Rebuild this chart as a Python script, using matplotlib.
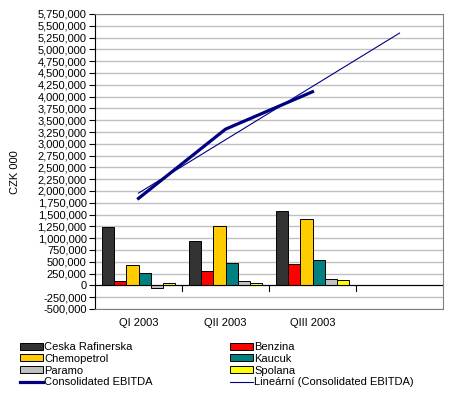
import numpy as np
import matplotlib
matplotlib.use("Agg")
import matplotlib.pyplot as plt
from matplotlib.ticker import FuncFormatter, MultipleLocator
from matplotlib.patches import Patch
from matplotlib.lines import Line2D

plt.rcParams['font.family'] = ['Liberation Sans', 'DejaVu Sans']

categories = ["QI 2003", "QII 2003", "QIII 2003", ""]
ceska = [1230000, 950000, 1567000]
benzina = [100000, 312000, 461000]
chemopetrol = [440000, 1248000, 1397000]
kaucuk = [270000, 483000, 546000]
paramo = [-50000, 100000, 142000]
spolana = [57000, 57000, 121000]
ebitda = [1843000, 3310000, 4103000]

series = [("Ceska Rafinerska", ceska, "#333333"),
          ("Benzina", benzina, "#FF0000"),
          ("Chemopetrol", chemopetrol, "#FFCC00"),
          ("Kaucuk", kaucuk, "#008080"),
          ("Paramo", paramo, "#C0C0C0"),
          ("Spolana", spolana, "#FFFF00")]

fig = plt.figure(figsize=(4.5, 3.96), dpi=100)
ax = fig.add_axes([95/450, 1-309/396, (443-95)/450, (309-14)/396])

n = len(series)
bw = 0.141
x = np.arange(3)
for i, (name, vals, col) in enumerate(series):
    ax.bar(x + (i - (n-1)/2)*bw, vals, width=bw, color=col, edgecolor='black', linewidth=0.7, zorder=3)

ax.plot(x, ebitda, color='#000080', linewidth=2.3, zorder=4)
# linear trend, forecast one period forward
coef = np.polyfit(np.arange(1, 4), ebitda, 1)
xt = np.array([1, 4])
ax.plot(xt - 1, np.polyval(coef, xt), color='#000080', linewidth=0.8, zorder=4)

ax.set_xlim(-0.5, 3.5)
ax.set_ylim(-500000, 5750000)
ax.yaxis.set_major_locator(MultipleLocator(250000))
ax.yaxis.set_major_formatter(FuncFormatter(lambda v, p: f"{int(round(v)):,}"))
ax.grid(axis='y', color='#C0C0C0', linewidth=1, zorder=0)
ax.set_axisbelow(True)

for s in ['top', 'right', 'bottom']:
    ax.spines[s].set_color('#808080')
    ax.spines[s].set_linewidth(0.8)
ax.spines['left'].set_color('black')
ax.spines['left'].set_linewidth(0.8)

ax.tick_params(axis='y', direction='out', length=4, width=0.8, labelsize=8, pad=2)
ax.set_xticks([])
for i, c in enumerate(categories):
    ax.text(i, -0.03, c, transform=ax.get_xaxis_transform(), ha='center', va='top', fontsize=8)
ax.axhline(0, color='black', linewidth=0.8, zorder=5)
for b in [0.5, 1.5, 2.5]:
    ax.plot([b, b], [0, -110000], color='black', linewidth=0.8, zorder=5, clip_on=False)

fig.text(15/450, 1-172/396, "CZK 000", rotation=90, ha='center', va='center', fontsize=8)

h1 = [Patch(facecolor=series[0][2], edgecolor='black', linewidth=0.7),
      Patch(facecolor=series[2][2], edgecolor='black', linewidth=0.7),
      Patch(facecolor=series[4][2], edgecolor='black', linewidth=0.7),
      Line2D([], [], color='#000080', linewidth=2.3)]
l1 = [series[0][0], series[2][0], series[4][0], "Consolidated EBITDA"]
h2 = [Patch(facecolor=series[1][2], edgecolor='black', linewidth=0.7),
      Patch(facecolor=series[3][2], edgecolor='black', linewidth=0.7),
      Patch(facecolor=series[5][2], edgecolor='black', linewidth=0.7),
      Line2D([], [], color='#000080', linewidth=0.8)]
l2 = [series[1][0], series[3][0], series[5][0], "Lineární (Consolidated EBITDA)"]

common = dict(frameon=False, fontsize=8, handlelength=2.1, handleheight=0.6,
              handletextpad=0.1, labelspacing=0.16, borderpad=0, borderaxespad=0,
              loc='upper left')
fig.legend(h1, l1, bbox_to_anchor=(20/450, 1-342/396), **common)
fig.legend(h2, l2, bbox_to_anchor=(230/450, 1-342/396), **common)

fig.savefig("out.png", dpi=100)
